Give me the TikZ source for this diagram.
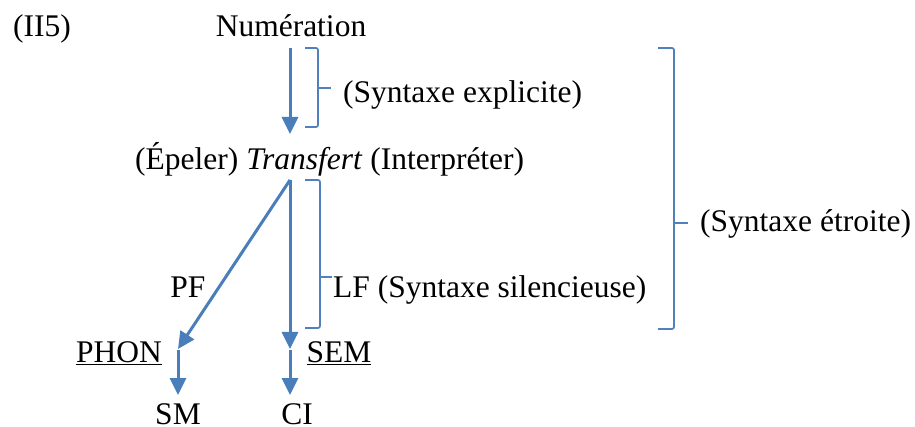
\documentclass[tikz,border=0pt]{standalone}
\usepackage{fontspec}
\setmainfont{Liberation Serif}
\usetikzlibrary{arrows.meta}
\definecolor{arr}{RGB}{74,126,187}
\definecolor{brk}{RGB}{79,129,189}
\begin{document}
\begin{tikzpicture}[x=1pt,y=-1pt,
  txt/.style={inner sep=0pt, font=\fontsize{31.5}{36}\selectfont, anchor=base},
  txtw/.style={txt, anchor=base west},
  flow/.style={draw=arr, line width=3pt, -{Triangle[length=17pt,width=16pt]}},
  brack/.style={draw=brk, line width=1.7pt, rounded corners=2pt}]
\useasboundingbox (0,0) rectangle (915,427);
% texts
\node[txtw] (ii5) at (13,37) {(II5)};
\node[txt] (num) at (291,37) {Numération};
\node[txtw] (expl) at (343,103) {(Syntaxe explicite)};
\node[txtw] (trans) at (135,170) {(Épeler) \textit{Transfert} (Interpréter)};
\node[txt] (pf) at (188,298) {PF};
\node[txtw] (lf) at (333,298) {LF (Syntaxe silencieuse)};
\node[txtw] (etr) at (700,232) {(Syntaxe étroite)};
\node[txt] (phon) at (119,362) {\underline{PHON}};
\node[txt] (sem) at (339,362) {\underline{SEM}};
\node[txt] (sm) at (178,424) {SM};
\node[txt] (ci) at (297,424) {CI};
% connector end points
\coordinate (n1) at (290,48);
\coordinate (t1) at (290,134);
\coordinate (j) at (290,180);
\coordinate (p1) at (178,349);
\coordinate (s1) at (290,349);
\coordinate (p2) at (178,350);
\coordinate (p3) at (178,395);
\coordinate (s2) at (290,350);
\coordinate (s3) at (290,395);
% arrows
\draw[flow] (n1) -- (t1);
\draw[flow] (j) -- (p1);
\draw[flow] (j) -- (s1);
\draw[flow] (p2) -- (p3);
\draw[flow] (s2) -- (s3);
% brackets
\draw[brack] (305,48) -- (318,48) -- (318,127) -- (305,127);
\draw[brack] (318,88) -- (331,88);
\draw[brack] (305,180) -- (320,180) -- (320,328) -- (305,328);
\draw[brack] (320,277) -- (332,277);
\draw[brack] (658,48) -- (674,48) -- (674,329) -- (658,329);
\draw[brack] (674,223) -- (688,223);
\end{tikzpicture}
\end{document}
